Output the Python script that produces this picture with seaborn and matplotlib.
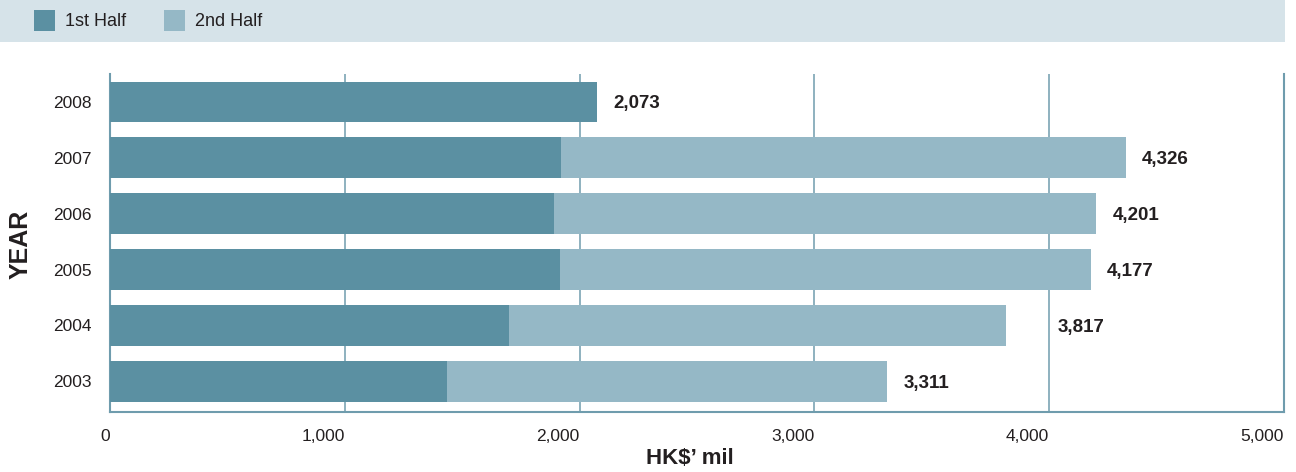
import matplotlib
matplotlib.use("Agg")
import matplotlib.pyplot as plt
import seaborn as sns
import pandas as pd
from matplotlib.patches import Rectangle

# ---- data ----
years = ["2008", "2007", "2006", "2005", "2004", "2003"]
first_half = [2073, 1920, 1890, 1916, 1699, 1435]
second_half = [0, 2406, 2311, 2261, 2118, 1876]
totals = [2073, 4326, 4201, 4177, 3817, 3311]
x_ticks = [0, 1000, 2000, 3000, 4000, 5000]
x_tick_labels = ["0", "1,000", "2,000", "3,000", "4,000", "5,000"]
legend_labels = ["1st Half", "2nd Half"]
x_label = "HK$’ mil"
y_label = "YEAR"

DARK = "#5b90a2"
LIGHT = "#95b8c6"
GRID = "#86abba"
SPINE = "#6f9cad"
TEXT = "#231f20"

sns.set_theme(style="white")
plt.rcParams["font.family"] = ["Liberation Sans", "DejaVu Sans"]

df = pd.DataFrame({
    "year": years,
    "first": first_half,
    "cum": [a + b for a, b in zip(first_half, second_half)],
})

fig = plt.figure(figsize=(12.96, 4.72), dpi=100)
ax = fig.add_axes([110 / 1296, 1 - 412 / 472, 1174 / 1296, 338 / 472])

sns.barplot(data=df, x="cum", y="year", order=years, orient="h",
            color=LIGHT, saturation=1, width=0.727, linewidth=0,
            ax=ax, zorder=2)
sns.barplot(data=df, x="first", y="year", order=years, orient="h",
            color=DARK, saturation=1, width=0.727, linewidth=0,
            ax=ax, zorder=3)

ax.set_xlim(0, 5000)
ax.set_ylim(5.55, -0.5)
ax.set_xticks(x_ticks)
ax.set_xticklabels(x_tick_labels, ha="right")
ax.tick_params(axis="both", length=0, labelsize=12.5, colors=TEXT)
ax.tick_params(axis="x", pad=12)
ax.tick_params(axis="y", pad=13)

ax.grid(axis="x", color=GRID, linewidth=1.3)
ax.grid(axis="y", visible=False)
ax.set_axisbelow(True)
for side in ["left", "bottom", "right"]:
    ax.spines[side].set_visible(True)
    ax.spines[side].set_color(SPINE)
    ax.spines[side].set_linewidth(1.5)
ax.spines["top"].set_visible(False)

ax.set_xlabel("")
ax.set_ylabel("")
fig.text(690 / 1296, 1 - 459 / 472, x_label, ha="center", va="center",
         fontsize=16, fontweight="bold", color=TEXT)
fig.text(21 / 1296, 1 - 244 / 472, y_label, ha="center", va="center",
         rotation=90, fontsize=18, fontweight="bold", color=TEXT)

# value labels
label_w = 200
for i, t in enumerate(totals):
    x = t + 70
    for g in x_ticks:
        if x < g < x + label_w:
            x = g + 37
    ax.text(x, i, f"{t:,}", ha="left", va="center_baseline", fontsize=13.5,
            fontweight="bold", color=TEXT, zorder=5)

# legend band
fig.add_artist(Rectangle((0, 1 - 42 / 472), 1285 / 1296, 42 / 472,
                         transform=fig.transFigure, facecolor="#d6e3e9",
                         edgecolor="none", zorder=0))
for (sx, tx, col, lab) in [(34, 65, DARK, legend_labels[0]),
                           (164, 195, LIGHT, legend_labels[1])]:
    fig.add_artist(Rectangle((sx / 1296, 1 - 31 / 472), 21 / 1296, 21 / 472,
                             transform=fig.transFigure, facecolor=col,
                             edgecolor="none", zorder=1))
    fig.text(tx / 1296, 1 - 21 / 472, lab, ha="left", va="center",
             fontsize=13, color=TEXT)

ax.set_facecolor("white")
fig.savefig("out.png", dpi=100, facecolor="white")
